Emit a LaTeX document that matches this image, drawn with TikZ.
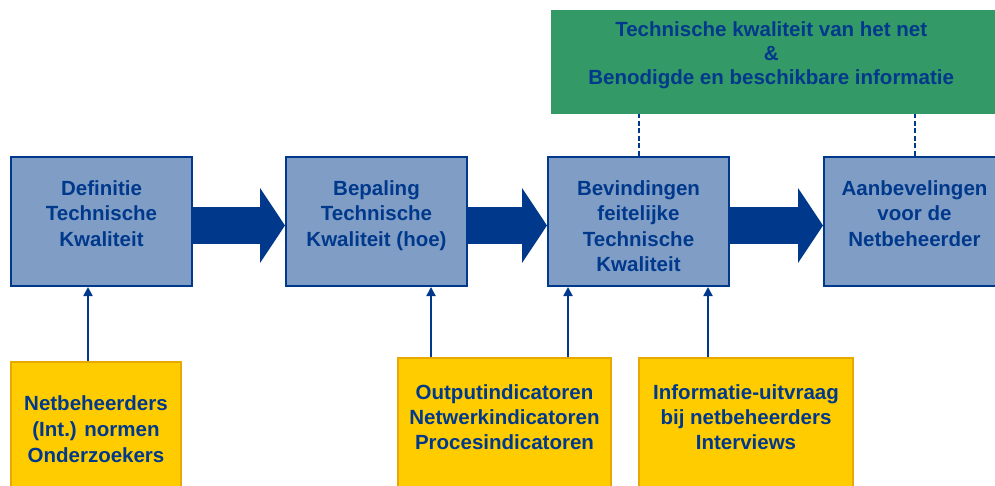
\documentclass[tikz,border=0pt]{standalone}
\usepackage{fontspec}
\setmainfont{Liberation Sans}
\usetikzlibrary{arrows.meta}
\definecolor{donkerblauw}{RGB}{0,56,140}
\definecolor{grijsblauw}{RGB}{128,158,197}
\definecolor{groen}{RGB}{51,153,102}
\definecolor{geel}{RGB}{255,204,0}
\definecolor{oranje}{RGB}{232,168,0}
\tikzset{
	stap/.style={draw=donkerblauw, line width=2pt, fill=grijsblauw, anchor=north west, minimum width=181pt, minimum height=129pt, inner sep=0pt},
	bron/.style={draw=oranje, line width=2pt, fill=geel, anchor=north west, minimum height=160pt, inner sep=0pt},
	tekst/.style={anchor=north, align=center, inner sep=0pt, text=donkerblauw, font=\fontsize{20.5}{25.5}\selectfont\bfseries},
	blokpijl/.style={draw=donkerblauw, line width=37pt, -{Triangle[length=25pt,width=74pt]}},
	pijl/.style={draw=donkerblauw, line width=1.8pt, -{Triangle[length=9pt,width=9pt]}},
	stippel/.style={draw=donkerblauw, line width=2pt, dash pattern=on 5pt off 2.5pt},
}
\begin{document}
\begin{tikzpicture}[x=1pt,y=-1pt]
	\clip (0,0) rectangle (995,486);
	% kader bovenaan
	\node[fill=groen, anchor=north west, minimum width=460pt, minimum height=104pt, inner sep=0pt,
		label={[tekst, yshift=-11pt, xshift=-10pt, font=\fontsize{20.5}{24}\selectfont\bfseries]north:Technische kwaliteit van het net\\\&\\Benodigde en beschikbare informatie}] (kader) at (551,10) {};
	% stappen
	\node[stap, label={[tekst, yshift=-24pt]north:Definitie\\Technische\\Kwaliteit}] (definitie) at (10,156) {};
	\node[stap, label={[tekst, yshift=-24pt]north:Bepaling\\Technische\\Kwaliteit (hoe)}] (bepaling) at (285,156) {};
	\node[stap, label={[tekst, yshift=-24pt]north:Bevindingen\\feitelijke\\Technische\\Kwaliteit}] (bevindingen) at (547,156) {};
	\node[stap, label={[tekst, yshift=-24pt]north:Aanbevelingen\\voor de\\Netbeheerder}] (aanbeveling) at (823,156) {};
	% bronnen
	\node[bron, minimum width=170pt, label={[tekst, yshift=-34pt, font=\fontsize{20.5}{26}\selectfont\bfseries]north:Netbeheerders\\(Int.) normen\\Onderzoekers}] (netbeheerders) at (10,361) {};
	\node[bron, minimum width=213pt, label={[tekst, yshift=-27pt, font=\fontsize{20.5}{25}\selectfont\bfseries]north:Outputindicatoren\\Netwerkindicatoren\\Procesindicatoren}] (indicatoren) at (397,357) {};
	\node[bron, minimum width=214pt, label={[tekst, yshift=-27pt, font=\fontsize{20.5}{25}\selectfont\bfseries]north:Informatie-uitvraag\\bij netbeheerders\\Interviews}] (uitvraag) at (638,357) {};
	\foreach \a/\b in {definitie/bepaling, bepaling/bevindingen, bevindingen/aanbeveling} {
		\draw[blokpijl] ([yshift=-4pt]\a.east) -- ([yshift=-4pt]\b.west);
	}
	\draw[pijl] ([xshift=78pt]netbeheerders.north west) -- ([xshift=78pt]definitie.south west);
	\draw[pijl] ([xshift=34pt]indicatoren.north west) -- ([xshift=146pt]bepaling.south west);
	\draw[pijl] ([xshift=171pt]indicatoren.north west) -- ([xshift=21pt]bevindingen.south west);
	\draw[pijl] ([xshift=70pt]uitvraag.north west) -- ([xshift=161pt]bevindingen.south west);
	\draw[stippel] (bevindingen.north) -- (bevindingen.north |- kader.south);
	\draw[stippel] (aanbeveling.north) -- (aanbeveling.north |- kader.south);
\end{tikzpicture}
\end{document}
